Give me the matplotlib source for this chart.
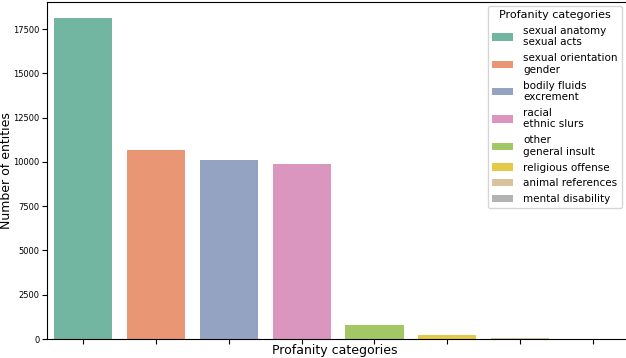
import matplotlib
matplotlib.use("Agg")
import matplotlib.pyplot as plt
import seaborn as sns

# data
categories = ["sexual anatomy\nsexual acts", "sexual orientation\ngender",
              "bodily fluids\nexcrement", "racial\nethnic slurs",
              "other\ngeneral insult", "religious offense",
              "animal references", "mental disability"]
counts = [18120, 10680, 10100, 9880, 790, 230, 60, 10]

def mkplot():
    fig = plt.figure(figsize=(6.26, 3.58), dpi=100)
    ax = fig.add_axes([0.075, 0.053, 0.93, 0.941])

    pal = [sns.desaturate(c, 0.75) for c in sns.color_palette("Set2", 8)]
    pos = list(range(len(counts)))
    for i, (cat, val) in enumerate(zip(categories, counts)):
        ax.bar(pos[i], val, width=0.8, color=pal[i], label=cat)

    ax.set_xlim(-0.5, len(counts) - 0.5)
    ax.set_ylim(0, max(counts) * 1.05)
    ax.set_xticks(pos)
    ax.set_xticklabels([""] * len(pos))
    ax.set_yticks([0, 2500, 5000, 7500, 10000, 12500, 15000, 17500])
    ax.tick_params(axis="y", labelsize=6, pad=2)
    ax.set_xlabel("Profanity categories", fontsize=9)
    ax.set_ylabel("Number of entities", fontsize=9)
    ax.yaxis.set_label_coords(-0.059, 0.5)
    ax.xaxis.set_label_coords(0.495, -0.016)

    ax.legend(title="Profanity categories", loc="upper right",
              fontsize=7.5, title_fontsize=8, labelspacing=0.55,
              handlelength=2.0, handletextpad=1.0, borderaxespad=0,
              bbox_to_anchor=(622 / 626, 1 - 6 / 358),
              bbox_transform=fig.transFigure)

    fig.savefig("out.png", dpi=100)

if __name__ == "__main__":
    mkplot()
